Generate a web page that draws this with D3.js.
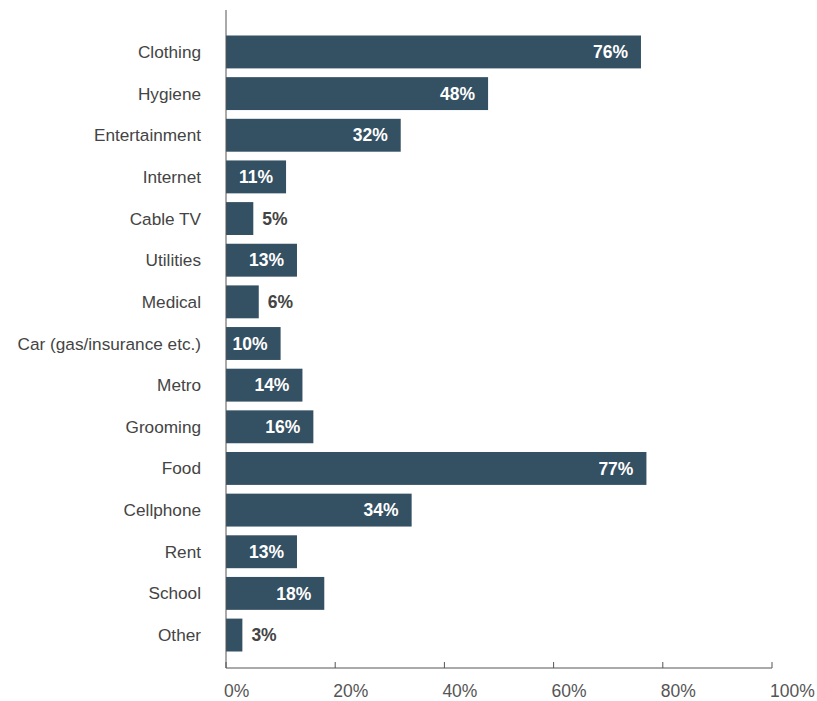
<!DOCTYPE html>
<html>
<head>
<meta charset="utf-8">
<script src="https://cdn.jsdelivr.net/npm/d3@7"></script>
<style>
  body { margin: 0; background: #fff; }
  text { font-family: "Liberation Sans", Arial, sans-serif; }
</style>
</head>
<body>
<div id="chart"></div>
<script>
const categories = ["Clothing", "Hygiene", "Entertainment", "Internet", "Cable TV", "Utilities", "Medical",
  "Car (gas/insurance etc.)", "Metro", "Grooming", "Food", "Cellphone", "Rent", "School", "Other"];
const values = [76, 48, 32, 11, 5, 13, 6, 10, 14, 16, 77, 34, 13, 18, 3];
const ticks = [0, 20, 40, 60, 80, 100];

const width = 817, height = 701;
const margin = { left: 226, right: 772, top: 10, bottom: 668 };

const svg = d3.select("#chart").append("svg")
  .attr("width", width)
  .attr("height", height);

const x = d3.scaleLinear().domain([0, 100]).range([margin.left, margin.right]);
const y = d3.scaleBand().domain(categories).range([35.5, 651.5]).paddingInner(0.21);

// bars
svg.selectAll("rect.bar")
  .data(categories)
  .join("rect")
  .attr("class", "bar")
  .attr("x", x(0))
  .attr("y", d => y(d))
  .attr("width", (d, i) => x(values[i]) - x(0))
  .attr("height", y.bandwidth())
  .attr("fill", "#345063");

// value labels: inside (white) for bigger bars, outside for small ones
svg.selectAll("text.val")
  .data(categories)
  .join("text")
  .attr("class", "val")
  .attr("x", (d, i) => values[i] >= 10 ? x(values[i]) - 13 : x(values[i]) + 9)
  .attr("y", d => y(d) + y.bandwidth() / 2)
  .attr("dy", "0.35em")
  .attr("text-anchor", (d, i) => values[i] >= 10 ? "end" : "start")
  .attr("fill", (d, i) => values[i] >= 10 ? "#fff" : "#444")
  .attr("font-size", 17.5)
  .attr("font-weight", "bold")
  .text((d, i) => values[i] + "%");

// category labels
svg.selectAll("text.cat")
  .data(categories)
  .join("text")
  .attr("class", "cat")
  .attr("x", 201)
  .attr("y", d => y(d) + y.bandwidth() / 2)
  .attr("dy", "0.35em")
  .attr("text-anchor", "end")
  .attr("fill", "#444")
  .attr("font-size", 17.2)
  .text(d => d);

// y axis line
svg.append("line")
  .attr("x1", margin.left).attr("x2", margin.left)
  .attr("y1", margin.top).attr("y2", margin.bottom)
  .attr("stroke", "#555").attr("stroke-width", 1);

// x axis: ticks point up, labels start at tick
const xAxis = svg.append("g").attr("transform", `translate(0,${margin.bottom})`);
xAxis.append("line")
  .attr("x1", margin.left).attr("x2", margin.right)
  .attr("stroke", "#555");
xAxis.selectAll("line.tick")
  .data(ticks)
  .join("line")
  .attr("class", "tick")
  .attr("x1", d => x(d)).attr("x2", d => x(d))
  .attr("y1", 0).attr("y2", -6)
  .attr("stroke", "#555");
xAxis.selectAll("text")
  .data(ticks)
  .join("text")
  .attr("x", d => x(d) - 2)
  .attr("y", 29)
  .attr("fill", "#555")
  .attr("font-size", 17.5)
  .text(d => d + "%");
</script>
</body>
</html>
